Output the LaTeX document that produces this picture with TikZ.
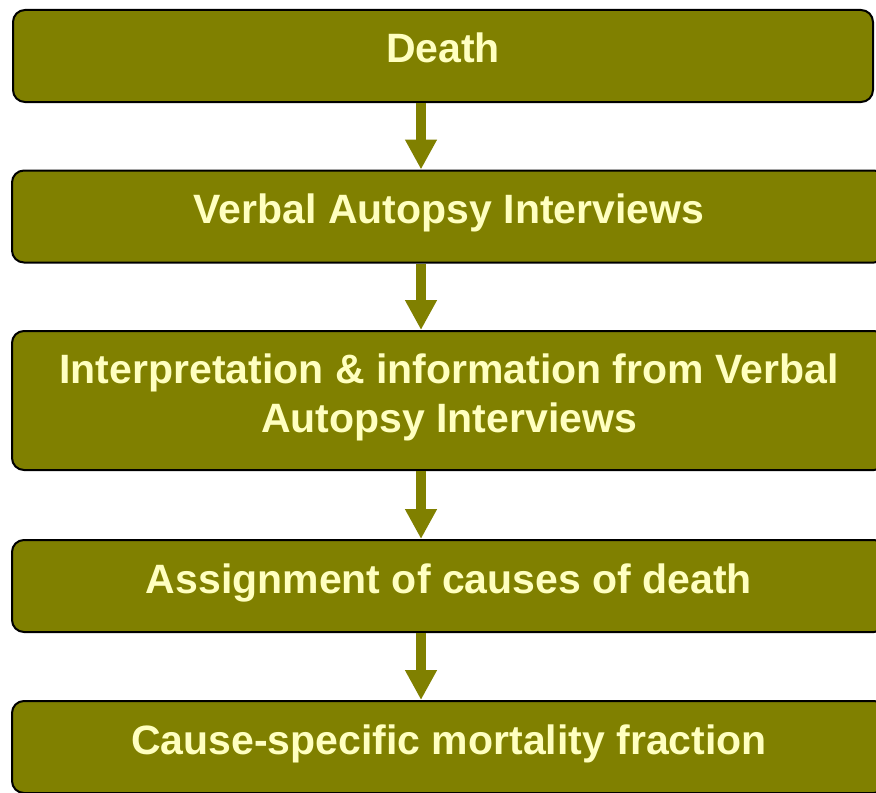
\documentclass[tikz,border=0pt]{standalone}
\usepackage{fontspec}
\setmainfont{Liberation Sans}
\usepackage{xcolor}
\usepackage{tikz}
\usetikzlibrary{positioning, arrows.meta}
\definecolor{olivefill}{RGB}{128,128,0}
\definecolor{paleyellow}{RGB}{255,255,192}

\begin{document}
\begin{tikzpicture}[
    x=0.5pt, y=-0.5pt,
    stage/.style={rectangle, draw=black, line width=1pt, rounded corners=6pt, fill=olivefill, text=paleyellow, font=\fontsize{20.5}{24.5}\selectfont\bfseries, align=center, text height=15pt, text depth=8pt, minimum height=46pt, minimum width=#1, inner sep=0pt},
    stage/.default=437pt,
    flow/.style={-{Triangle[width=15pt, length=15pt]}, line width=5pt, draw=olivefill},
]
\useasboundingbox (0,0) rectangle (876,792);

% --- stages ---
\node[stage=430pt] (death) at (443, 56) {Death};
\node[stage] (interviews) at (449, 216.5) {Verbal Autopsy Interviews};
\node[stage, text height=39.5pt, minimum height=69.5pt] (interp) at (449, 400.5) {Interpretation \& information from Verbal\\Autopsy Interviews};
\node[stage] (assign) at (449, 586) {Assignment of causes of death};
\node[stage] (csmf) at (449, 747) {Cause-specific mortality fraction};

% --- arrows ---
\coordinate (ax) at (421, 0);
\draw[flow] (death.south -| ax) -- (interviews.north -| ax);
\draw[flow] (interviews.south -| ax) -- (interp.north -| ax);
\draw[flow] (interp.south -| ax) -- (assign.north -| ax);
\draw[flow] (assign.south -| ax) -- (csmf.north -| ax);

\end{tikzpicture}
\end{document}
